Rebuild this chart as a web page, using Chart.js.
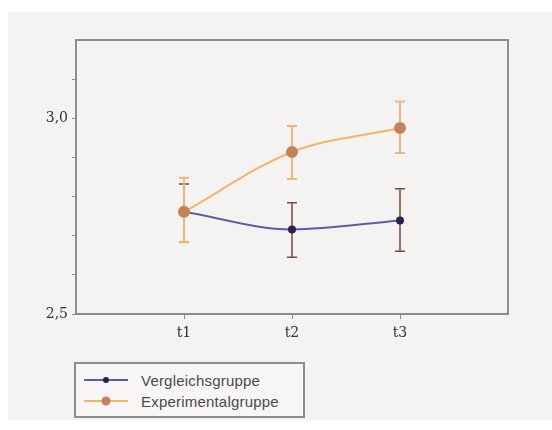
<!DOCTYPE html>
<html>
<head>
<meta charset="utf-8">
<script src="https://cdn.jsdelivr.net/npm/chart.js@4.4.0/dist/chart.umd.min.js"></script>
<style>
  body { margin: 0; background: #fff; }
  #wrap { position: absolute; left: 8px; top: 12px; width: 544px; height: 408px; background: #f4f3f1; }
  #legend { position: absolute; left: 66px; top: 350px; width: 227px; height: 52px; border: 2px solid #8c8c8c; background: #f7f6f4;
            font-family: "Liberation Sans", Arial, sans-serif; font-size: 15px; color: #4a4a4a; letter-spacing: 0.2px; }
  .row { position: absolute; left: 8px; height: 20px; display: flex; align-items: center; }
  .row svg { margin-right: 13px; }
</style>
</head>
<body>
<div id="wrap">
  <canvas id="myChart" width="544" height="408"></canvas>
  <div id="legend">
    <div class="row" style="top:6px">
      <svg width="44" height="10"><line x1="0" y1="5" x2="44" y2="5" stroke="#5b5ea6" stroke-width="2"/><circle cx="22" cy="5" r="3" fill="#2b2050"/></svg>
      <span>Vergleichsgruppe</span>
    </div>
    <div class="row" style="top:27px">
      <svg width="44" height="10"><line x1="0" y1="5" x2="44" y2="5" stroke="#f2b469" stroke-width="2"/><circle cx="22" cy="5" r="4.5" fill="#c5825a"/></svg>
      <span>Experimentalgruppe</span>
    </div>
  </div>
</div>
<script>
// Messzeitpunkte
const categories = ['t1', 't2', 't3']

// Mittelwerte
const vergleich = [2.761, 2.716, 2.739]
const experimental = [2.761, 2.914, 2.975]

// Fehlerbalken (unten / oben)
const vergleichLow = [2.683, 2.645, 2.660]
const vergleichHigh = [2.832, 2.784, 2.820]
const experimentalLow = [2.683, 2.845, 2.911]
const experimentalHigh = [2.848, 2.980, 3.043]

const yLabels = [2.5, 3.0]

const toPoints = (arr) => arr.map((v, i) => ({ x: i + 1, y: v }))

// error bars, Vergleichsgruppe first so the orange ones end up on top
const errorBars = {
  id: 'errorBars',
  beforeDatasetsDraw(chart) {
    const ctx = chart.ctx
    const xs = chart.scales.x
    const ys = chart.scales.y
    chart.data.datasets.forEach((ds) => {
      ctx.save()
      ctx.strokeStyle = ds.errColor
      ctx.lineWidth = ds.errWidth
      ds.low.forEach((lo, i) => {
        const px = Math.round(xs.getPixelForValue(i + 1))
        const y1 = ys.getPixelForValue(lo)
        const y2 = ys.getPixelForValue(ds.high[i])
        ctx.beginPath()
        ctx.moveTo(px, y1); ctx.lineTo(px, y2)
        ctx.moveTo(px - 5, y1); ctx.lineTo(px + 5, y1)
        ctx.moveTo(px - 5, y2); ctx.lineTo(px + 5, y2)
        ctx.stroke()
      })
      ctx.restore()
    })
  }
}

const frame = {
  id: 'frame',
  afterDraw(chart) {
    const a = chart.chartArea
    const ctx = chart.ctx
    ctx.save()
    ctx.strokeStyle = '#8c8c8c'
    ctx.lineWidth = 2
    ctx.strokeRect(a.left, a.top, a.right - a.left, a.bottom - a.top)
    ctx.restore()
  }
}

const ctx = document.getElementById('myChart').getContext('2d')

const chart = new Chart(ctx, {
  type: 'line',
  data: {
    datasets: [{
      label: 'Vergleichsgruppe',
      data: toPoints(vergleich),
      low: vergleichLow,
      high: vergleichHigh,
      errColor: '#7b4b3b',
      errWidth: 1.5,
      borderColor: '#5b5ea6',
      borderWidth: 2,
      pointBackgroundColor: '#2b2050',
      pointBorderColor: '#2b2050',
      pointRadius: 3,
      tension: 0.4,
      cubicInterpolationMode: 'monotone',
      order: 1
    }, {
      label: 'Experimentalgruppe',
      data: toPoints(experimental),
      low: experimentalLow,
      high: experimentalHigh,
      errColor: '#edb77a',
      errWidth: 2,
      borderColor: '#f2b469',
      borderWidth: 2,
      pointBackgroundColor: '#c5825a',
      pointBorderColor: '#c5825a',
      pointRadius: 5,
      tension: 0.4,
      cubicInterpolationMode: 'monotone',
      order: 0
    }]
  },
  options: {
    animation: false,
    responsive: false,
    layout: { padding: { top: 28, right: 44, left: 0, bottom: 0 } },
    plugins: { legend: { display: false }, tooltip: { enabled: false } },
    scales: {
      x: {
        type: 'linear',
        min: 0, max: 4,
        afterFit: (s) => { s.height = 106 },
        ticks: {
          stepSize: 1,
          color: '#333',
          padding: 6,
          font: { family: '"DejaVu Serif", serif', size: 14 },
          callback: (v) => categories[v - 1] || ''
        },
        grid: {
          drawOnChartArea: false,
          tickLength: 5,
          color: (c) => (c.tick && categories[c.tick.value - 1]) ? '#8c8c8c' : 'rgba(0,0,0,0)'
        },
        border: { color: '#8c8c8c', width: 2 }
      },
      y: {
        min: 2.5, max: 3.2,
        afterFit: (s) => { s.width = 68 },
        ticks: {
          stepSize: 0.1,
          color: '#333',
          padding: 4,
          font: { family: '"DejaVu Serif", serif', size: 14 },
          callback: (v) => yLabels.some(l => Math.abs(l - v) < 1e-6) ? v.toFixed(1).replace('.', ',') : ''
        },
        grid: {
          drawOnChartArea: false,
          tickLength: 4,
          color: (c) => (c.tick && c.tick.value > 3.15) ? 'rgba(0,0,0,0)' : '#8c8c8c'
        },
        border: { color: '#8c8c8c', width: 2 }
      }
    }
  },
  plugins: [errorBars, frame]
})
</script>
</body>
</html>
